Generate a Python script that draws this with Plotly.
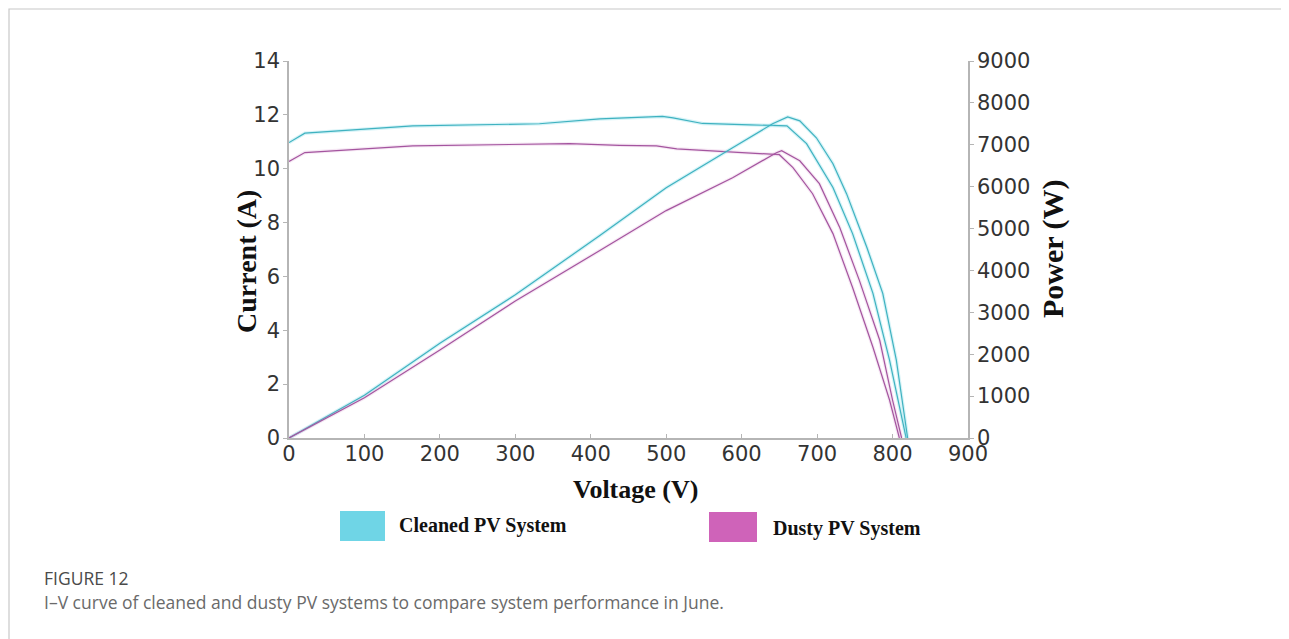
import plotly.graph_objects as go

# ---- data ----
clean_iv_v = [0, 21, 164, 332, 412, 495, 509, 548, 611, 650, 660, 686, 721, 747, 774, 796, 818]
clean_iv_i = [10.97, 11.32, 11.59, 11.67, 11.85, 11.94, 11.89, 11.68, 11.63, 11.62, 11.59, 10.93, 9.30, 7.59, 5.37, 2.89, 0]

clean_pv_v = [0, 100, 200, 300, 412, 500, 588, 641, 661, 677, 699, 721, 739, 766, 787, 805, 820]
clean_pv_p = [0, 1020, 2260, 3420, 4833, 5976, 6929, 7500, 7667, 7571, 7167, 6548, 5833, 4548, 3452, 1857, 0]

dusty_iv_v = [0, 21, 164, 253, 330, 372, 438, 487, 514, 611, 650, 668, 694, 721, 747, 774, 796, 809]
dusty_iv_i = [10.27, 10.6, 10.85, 10.89, 10.93, 10.93, 10.87, 10.85, 10.74, 10.57, 10.52, 10.04, 9.07, 7.59, 5.59, 3.37, 1.41, 0]

dusty_pv_v = [0, 100, 200, 300, 412, 500, 588, 646, 653, 677, 703, 730, 756, 783, 800, 812]
dusty_pv_p = [0, 960, 2100, 3270, 4476, 5429, 6214, 6810, 6857, 6619, 6071, 5024, 3762, 2333, 905, 0]

x_ticks = [0, 100, 200, 300, 400, 500, 600, 700, 800, 900]
y_ticks = [0, 2, 4, 6, 8, 10, 12, 14]
y2_ticks = [0, 1000, 2000, 3000, 4000, 5000, 6000, 7000, 8000, 9000]

series_names = ["Cleaned PV System", "Dusty PV System"]
line_colors = ["#3fb2c0", "#a4559f"]
halo_colors = ["rgba(120,215,230,0.30)", "rgba(205,130,195,0.18)"]
legend_colors = ["#6fd5e6", "#cf63b9"]

OFF = 8                      # page body margin
W, H = 1289 - OFF, 639 - OFF
L, R, T, B = 289, 968, 61, 438  # plot area in page pixels

fig = go.Figure()

def add_line(x, y, yaxis, idx):
    fig.add_trace(go.Scatter(x=x, y=y, yaxis=yaxis, mode="lines",
                             line=dict(color=halo_colors[idx], width=3.5),
                             showlegend=False, hoverinfo="skip"))
    fig.add_trace(go.Scatter(x=x, y=y, yaxis=yaxis, mode="lines",
                             line=dict(color=line_colors[idx], width=1.2),
                             name=series_names[idx], showlegend=False))

add_line(clean_iv_v, clean_iv_i, "y", 0)
add_line(clean_pv_v, clean_pv_p, "y2", 0)
add_line(dusty_iv_v, dusty_iv_i, "y", 1)
add_line(dusty_pv_v, dusty_pv_p, "y2", 1)

tick_font = dict(family="DejaVu Sans, sans-serif", size=21, color="#333333")
axis_col = "#b5b5b5"

fig.update_layout(
    width=W, height=H,
    margin=dict(l=L - OFF, r=(1289 - R), t=T - OFF, b=(639 - B), pad=0),
    paper_bgcolor="white", plot_bgcolor="white",
    xaxis=dict(range=[0, 900], tickvals=x_ticks, ticks="inside", ticklen=4,
               tickcolor=axis_col, showline=True, linecolor=axis_col, linewidth=1.5,
               showgrid=False, zeroline=False, tickfont=tick_font, ticklabelstandoff=-4),
    yaxis=dict(range=[0, 14], tickvals=y_ticks, ticks="outside", ticklen=4,
               tickcolor=axis_col, showline=True, linecolor=axis_col, linewidth=1.5,
               showgrid=False, zeroline=False, tickfont=tick_font, ticklabelstandoff=-1),
    yaxis2=dict(range=[0, 9000], tickvals=y2_ticks, ticks="outside", ticklen=4,
                tickcolor=axis_col, showline=True, linecolor=axis_col, linewidth=1.5,
                showgrid=False, zeroline=False, tickfont=tick_font, overlaying="y",
                side="right", ticklabelstandoff=-1),
    showlegend=False,
)

pw, ph = R - L, B - T
def px(x):
    return (x - L) / pw
def py(y):
    return (B - y) / ph

serif = "Liberation Serif, Times New Roman, serif"
ann = []
ann.append(dict(text="<b>Current (A)</b>", x=px(246), y=py(262), xref="paper", yref="paper",
                textangle=-90, showarrow=False, font=dict(family=serif, size=28, color="#111"),
                xanchor="center", yanchor="middle"))
ann.append(dict(text="<b>Power (W)</b>", x=px(1053), y=py(249), xref="paper", yref="paper",
                textangle=-90, showarrow=False, font=dict(family=serif, size=30, color="#111"),
                xanchor="center", yanchor="middle"))
ann.append(dict(text="<b>Voltage (V)</b>", x=px(635), y=py(489), xref="paper", yref="paper",
                showarrow=False, font=dict(family=serif, size=26, color="#111"),
                xanchor="center", yanchor="middle"))
ann.append(dict(text="<b>" + series_names[0] + "</b>", x=px(397), y=py(525), xref="paper", yref="paper",
                showarrow=False, font=dict(family=serif, size=20, color="#111"),
                xanchor="left", yanchor="middle"))
ann.append(dict(text="<b>" + series_names[1] + "</b>", x=px(771), y=py(528), xref="paper", yref="paper",
                showarrow=False, font=dict(family=serif, size=20, color="#111"),
                xanchor="left", yanchor="middle"))
ann.append(dict(text="FIGURE 12", x=px(42), y=py(578), xref="paper", yref="paper",
                showarrow=False, font=dict(family="Open Sans, sans-serif", size=17.5, color="#4a4a4a"),
                xanchor="left", yanchor="middle"))
ann.append(dict(text="I\u2013V curve of cleaned and dusty PV systems to compare system performance in June.",
                x=px(42), y=py(602), xref="paper", yref="paper",
                showarrow=False, font=dict(family="Open Sans, sans-serif", size=17.5, color="#6a6a6a"),
                xanchor="left", yanchor="middle"))
fig.update_layout(annotations=ann)

shapes = []
shapes.append(dict(type="rect", xref="paper", yref="paper", x0=px(340), x1=px(385), y0=py(541), y1=py(511),
                   fillcolor=legend_colors[0], line=dict(width=0)))
shapes.append(dict(type="rect", xref="paper", yref="paper", x0=px(709), x1=px(757), y0=py(542), y1=py(512),
                   fillcolor=legend_colors[1], line=dict(width=0)))
shapes.append(dict(type="rect", xref="paper", yref="paper", x0=px(9), x1=px(1288), y0=py(680), y1=py(9),
                   line=dict(color="#c8c8c8", width=1.2), fillcolor="rgba(0,0,0,0)", layer="below"))
fig.update_layout(shapes=shapes)

fig.write_html("out.html")
